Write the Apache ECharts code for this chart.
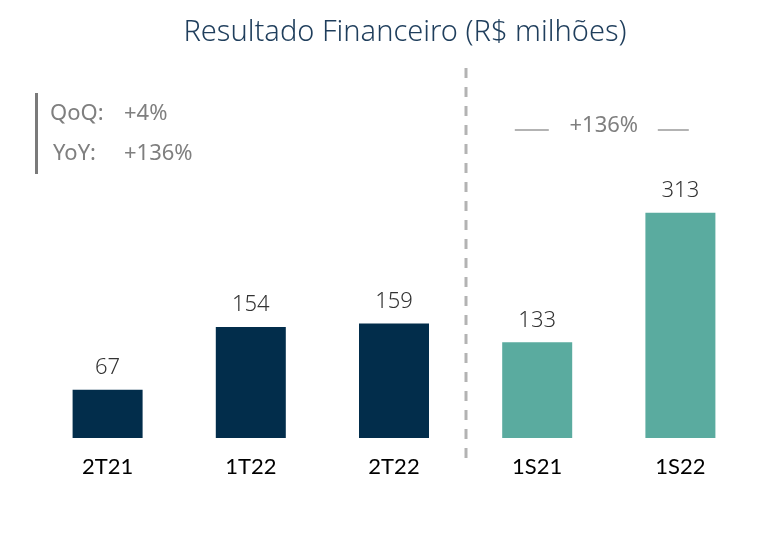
<!DOCTYPE html>
<html>
<head>
<meta charset="utf-8">
<script src="https://cdn.jsdelivr.net/npm/echarts@6/dist/echarts.min.js"></script>
<style>
  html, body { margin: 0; padding: 0; background: #fff; }
  #chart { width: 771px; height: 560px; }
</style>
</head>
<body>
<div id="chart"></div>
<script>
var categories = ['2T21', '1T22', '2T22', '1S21', '1S22'];
var values = [67, 154, 159, 133, 313];
var barColors = ['#022d4b', '#022d4b', '#022d4b', '#5aab9f', '#5aab9f'];
var growthNames = ['QoQ:', 'YoY:'];
var growthValues = ['+4%', '+136%'];
var semesterGrowth = '+136%';

var myChart = echarts.init(document.getElementById('chart'));
var font = 'Noto Sans';

var option = {
  animation: false,
  title: {
    text: 'Resultado Financeiro (R$ milhões)',
    left: 400,
    textAlign: 'center',
    top: 13,
    textStyle: {
      color: '#1f3e5c',
      fontSize: 29,
      fontWeight: 300,
      fontFamily: font
    }
  },
  grid: {
    left: 36,
    width: 716,
    top: 150,
    height: 288
  },
  xAxis: {
    type: 'category',
    data: categories,
    axisLine: { show: false },
    axisTick: { show: false },
    axisLabel: {
      color: '#000',
      fontSize: 22,
      fontFamily: 'Lato',
      margin: 18
    }
  },
  yAxis: {
    type: 'value',
    min: 0,
    max: 400,
    show: false
  },
  series: [{
    type: 'bar',
    barWidth: 70,
    data: values.map(function (v, i) {
      return { value: v, itemStyle: { color: barColors[i] } };
    }),
    label: {
      show: true,
      position: 'top',
      distance: 11,
      color: '#333',
      fontSize: 22,
      fontWeight: 300,
      fontFamily: font
    }
  }]
};
myChart.setOption(option);

// decorations placed from the axis positions
var p2 = myChart.convertToPixel({ xAxisIndex: 0 }, '2T22');
var p3 = myChart.convertToPixel({ xAxisIndex: 0 }, '1S21');
var p4 = myChart.convertToPixel({ xAxisIndex: 0 }, '1S22');
var sepX = Math.round((p2 + p3) / 2);
var midRight = (p3 + p4) / 2 - 5;

var annStyle = { fill: '#7f7f7f', fontSize: 22, fontFamily: font, verticalAlign: 'middle' };

myChart.setOption({
  graphic: [
    {
      type: 'line',
      shape: { x1: sepX, y1: 68, x2: sepX, y2: 462 },
      style: { stroke: '#b3b3b3', lineWidth: 3, lineDash: [10, 9] }
    },
    {
      type: 'rect',
      shape: { x: 35, y: 93, width: 3, height: 81 },
      style: { fill: '#7a7a7a' }
    },
    { type: 'text', x: 50, y: 114, style: Object.assign({ text: growthNames[0] }, annStyle) },
    { type: 'text', x: 53, y: 154, style: Object.assign({ text: growthNames[1] }, annStyle) },
    { type: 'text', x: 124, y: 114, style: Object.assign({ text: growthValues[0] }, annStyle) },
    { type: 'text', x: 124, y: 154, style: Object.assign({ text: growthValues[1] }, annStyle) },
    {
      type: 'text',
      x: midRight, y: 126,
      style: Object.assign({ text: semesterGrowth, align: 'center' }, annStyle)
    },
    {
      type: 'line',
      shape: { x1: midRight - 89, y1: 130, x2: midRight - 55, y2: 130 },
      style: { stroke: '#b3b3b3', lineWidth: 2 }
    },
    {
      type: 'line',
      shape: { x1: midRight + 54, y1: 130, x2: midRight + 85, y2: 130 },
      style: { stroke: '#b3b3b3', lineWidth: 2 }
    }
  ]
});

window.addEventListener('resize', function () {
  myChart.resize();
});
</script>
</body>
</html>
